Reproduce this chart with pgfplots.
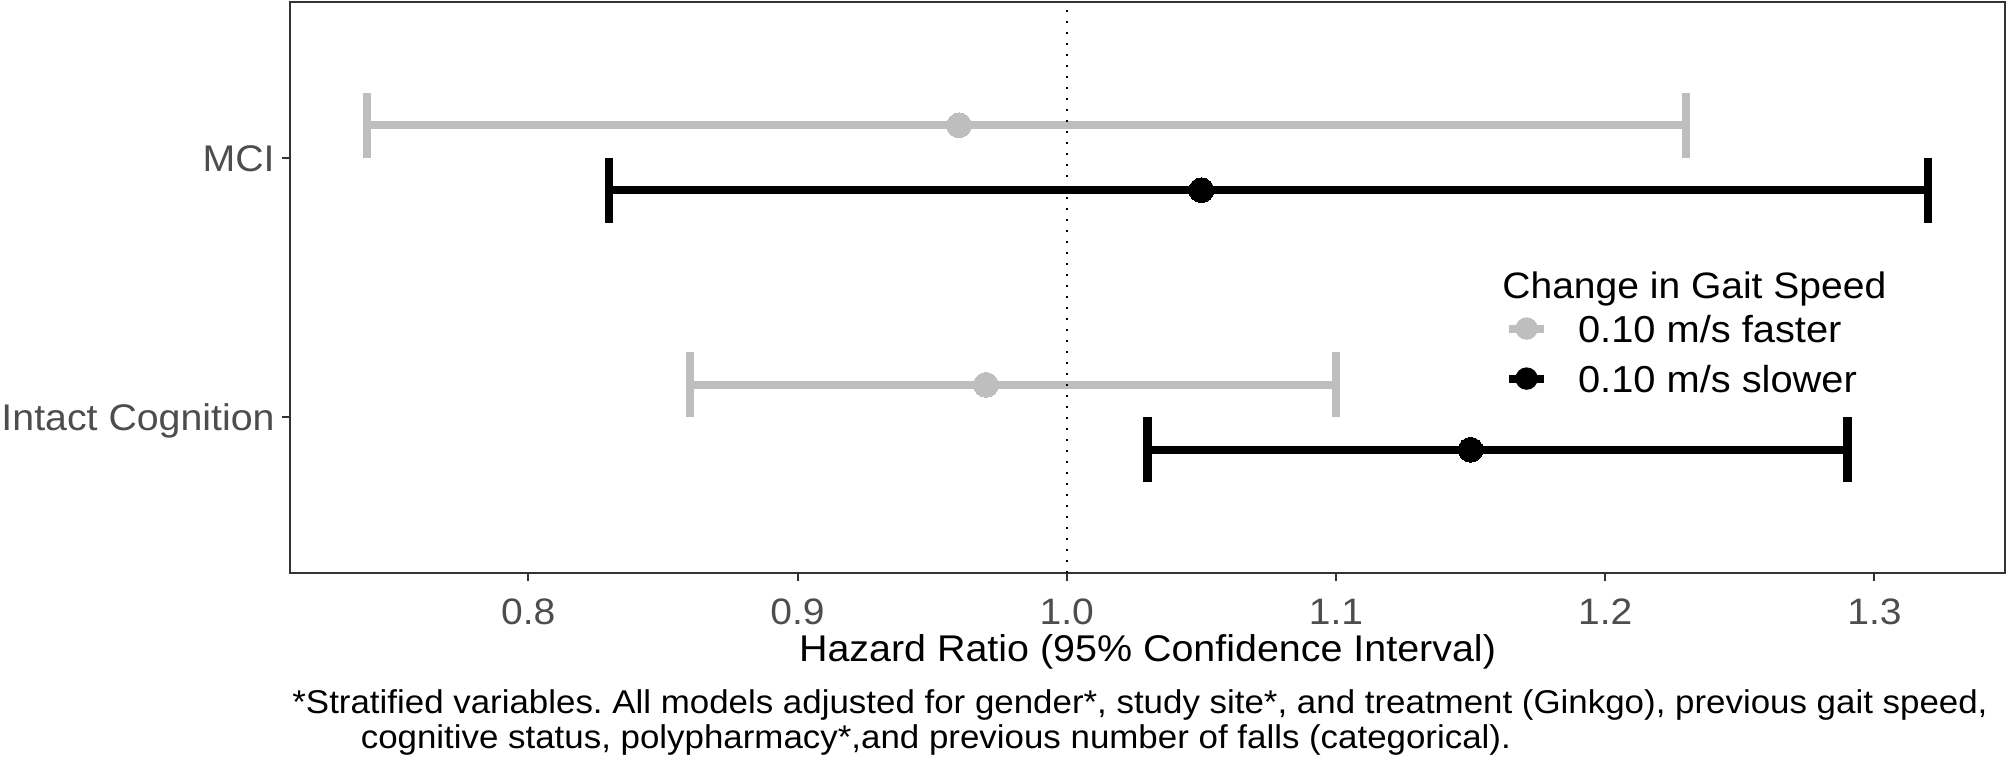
\documentclass[border=0pt]{standalone}
\usepackage{fontspec}
\setmainfont[FakeStretch=1.06]{Liberation Sans}
\usepackage{pgfplots}
\pgfplotsset{compat=1.18}
\usepackage{pgfplotstable}
\definecolor{ggrey}{HTML}{BEBEBE}
\definecolor{g20}{HTML}{333333}
\definecolor{g30}{HTML}{4D4D4D}
\frenchspacing

% faster = grey (upper dodge), slower = black (lower dodge)
\pgfplotstableread{
y est lo hi
2.125 0.96 0.74 1.23
1.125 0.97 0.86 1.10
}\faster
\pgfplotstableread{
y est lo hi
1.875 1.05 0.83 1.32
0.875 1.15 1.03 1.29
}\slower

\begin{document}
\begin{tikzpicture}
\path[use as bounding box] (0,0) rectangle (502pt,190.25pt);
\begin{axis}[
  at={(72.5pt,47pt)}, anchor=south west,
  scale only axis, width=428.75pt, height=142.75pt,
  xmin=0.7115, xmax=1.3485, ymin=0.4, ymax=2.6,
  xtick={0.8,0.9,1.0,1.1,1.2,1.3},
  xticklabels={0.8,0.9,1.0,1.1,1.2,1.3},
  ytick={1,2}, yticklabels={Intact Cognition,MCI},
  tick align=outside, major tick length=2pt,
  xtick pos=bottom, ytick pos=left,
  tick style={draw=g20, line width=0.5pt},
  axis line style={draw=g20, line width=0.5pt},
  xticklabel style={font=\fontsize{9.2pt}{11pt}\selectfont, text=g30, anchor=north, inner sep=0pt, text height=6.6pt, text depth=0pt, yshift=-4.08pt},
  yticklabel style={font=\fontsize{9.27pt}{11pt}\selectfont, text=g30, anchor=east, inner sep=0pt, text height=6.64pt, text depth=0pt, xshift=-1.65pt},
  xlabel={Hazard Ratio (95\% Confidence Interval)},
  xlabel style={at={(axis description cs:0.5,-0.1553)}, anchor=base, inner sep=0pt, font=\fontsize{9.3pt}{11pt}\selectfont, text=black},
  clip=false,
  legend style={at={(0.7085,0.4516)}, anchor=north west, draw=none, fill=none,
    inner sep=0pt, outer sep=0pt, row sep=5.78pt, column sep=7.5pt,
    cells={anchor=west}, nodes={inner sep=0pt, outer sep=0pt},
    font=\fontsize{9.39pt}{11pt}\selectfont},
]
% error bars
\addplot[only marks, mark=none, forget plot,
  error bars/.cd, x dir=both, x explicit, error mark=|,
  error bar style={line width=2.08pt, color=ggrey},
  error mark options={line width=2.08pt, color=ggrey, mark size=8.1pt}]
  table[x=est, y=y, x error plus expr=\thisrow{hi}-\thisrow{est}, x error minus expr=\thisrow{est}-\thisrow{lo}] {\faster};
\addplot[only marks, mark=none, forget plot,
  error bars/.cd, x dir=both, x explicit, error mark=|,
  error bar style={line width=2.08pt, color=black},
  error mark options={line width=2.08pt, color=black, mark size=8.1pt}]
  table[x=est, y=y, x error plus expr=\thisrow{hi}-\thisrow{est}, x error minus expr=\thisrow{est}-\thisrow{lo}] {\slower};
% reference line
\addplot[forget plot, black, line width=0.55pt, dash pattern=on 0.6pt off 2.15pt] coordinates {(1,0.4) (1,2.6)};
% points
\addplot[forget plot, only marks, color=ggrey, mark=*, mark size=3.1pt, mark options={fill=ggrey, draw=ggrey, line width=0pt}] table[x=est, y=y] {\faster};
\addplot[forget plot, only marks, color=black, mark=*, mark size=3.1pt, mark options={fill=black, draw=black, line width=0pt}] table[x=est, y=y] {\slower};
% legend
\addlegendimage{legend image code/.code={\draw[line width=2pt, ggrey] (0pt,0pt) -- (8.75pt,0pt); \fill[ggrey] (4.375pt,0pt) circle (2.6pt);}}
\addlegendentry[text height=6.72pt, text depth=0pt]{0.10 m/s faster}
\addlegendimage{legend image code/.code={\draw[line width=2pt, black] (0pt,0pt) -- (8.75pt,0pt); \fill[black] (4.375pt,0pt) circle (2.6pt);}}
\addlegendentry[text height=6.72pt, text depth=0pt]{0.10 m/s slower}
\end{axis}
\node[anchor=base west, inner sep=0pt, font=\fontsize{9.2pt}{11pt}\selectfont] at (375.4pt,115.7pt) {Change in Gait Speed};
\node[anchor=base west, inner sep=0pt, font=\fontsize{8.23pt}{10pt}\selectfont] at (72.9pt,11.9pt) {*Stratified variables. All models adjusted for gender*, study site*, and treatment (Ginkgo), previous gait speed,};
\node[anchor=base west, inner sep=0pt, font=\fontsize{8.23pt}{10pt}\selectfont] at (90pt,3.2pt) {cognitive status, polypharmacy*,and previous number of falls (categorical).};
\end{tikzpicture}
\end{document}
